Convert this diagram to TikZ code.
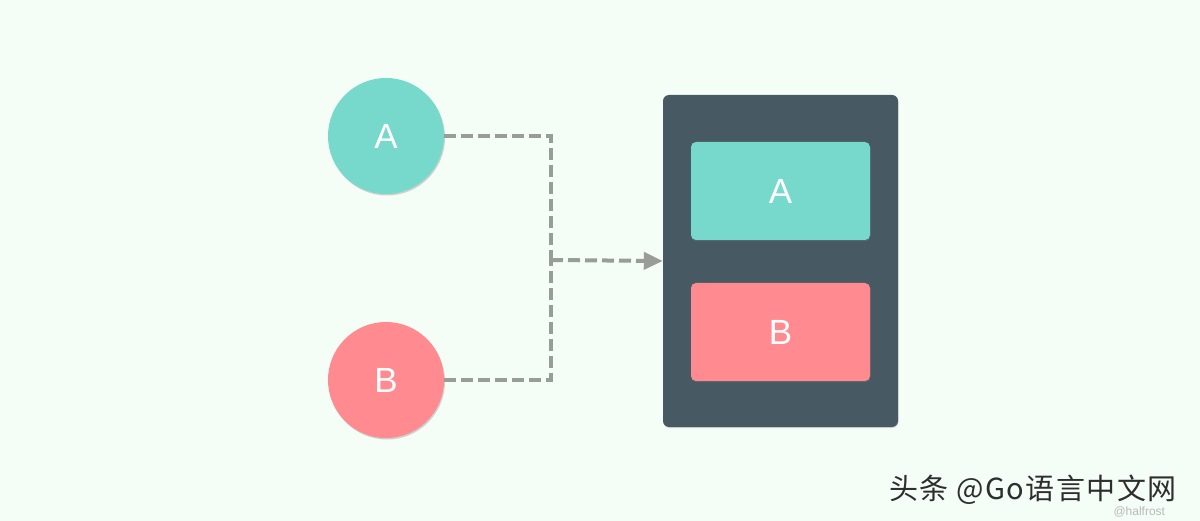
\documentclass[tikz,border=0pt]{standalone}
\usepackage{fontspec}
\setmainfont{Liberation Sans}
\newfontfamily\cjk{Noto Sans CJK SC}[LetterSpace=5]
\usetikzlibrary{arrows.meta,shadows}
\definecolor{bgc}{HTML}{F5FDF7}
\definecolor{tealc}{HTML}{76D9CB}
\definecolor{pinkc}{HTML}{FF8A8F}
\definecolor{darkc}{HTML}{475A63}
\definecolor{linec}{HTML}{9A9C98}
\tikzset{
  ball/.style={circle, minimum size=116pt, inner sep=0pt, text=white, font=\fontsize{35}{38}\selectfont,
    drop shadow={shadow xshift=1pt, shadow yshift=-1.5pt, opacity=0.35}},
  slot/.style={rounded corners=5pt, minimum width=179pt, minimum height=98pt, inner sep=0pt, text=white,
    font=\fontsize{35}{38}\selectfont, drop shadow={shadow xshift=0.5pt, shadow yshift=-1.2pt, opacity=0.35}},
  link/.style={draw=linec, line width=4pt, dash pattern=on 12pt off 5pt},
}
\begin{document}
\begin{tikzpicture}[x=1pt,y=-1pt]
\fill[bgc] (0,0) rectangle (1200,521);
\useasboundingbox (0,0) rectangle (1200,521);
% container
\node[fill=darkc, rounded corners=6pt, minimum width=235pt, minimum height=332pt, inner sep=0pt,
  drop shadow={shadow xshift=0.5pt, shadow yshift=-1pt, opacity=0.25}] (box) at (780.5,261) {};
\node[slot, fill=tealc] (ra) at (780.5,191) {A};
\node[slot, fill=pinkc] (rb) at (780.5,332) {B};
% circles
\node[ball, fill=tealc] (ca) at (386,136) {A};
\node[ball, fill=pinkc] (cb) at (386,380) {B};
% connectors
\coordinate (j) at (551,260);
\draw[link] (ca.east) -| (j);
\draw[link] (cb.east) -| (j);
\draw[link, -{Triangle[width=17pt,length=19pt]}] (j) -- (box.west);
% watermark
\node[anchor=west, text=gray!55, font=\fontsize{12}{13}\selectfont] (wm2) at (1110,512) {@halfrost};
\node[anchor=west, inner sep=0pt, text=black!82, font=\cjk\fontsize{29}{31}\selectfont] (wm) at (889,490) {头条 @Go语言中文网};
\end{tikzpicture}
\end{document}
